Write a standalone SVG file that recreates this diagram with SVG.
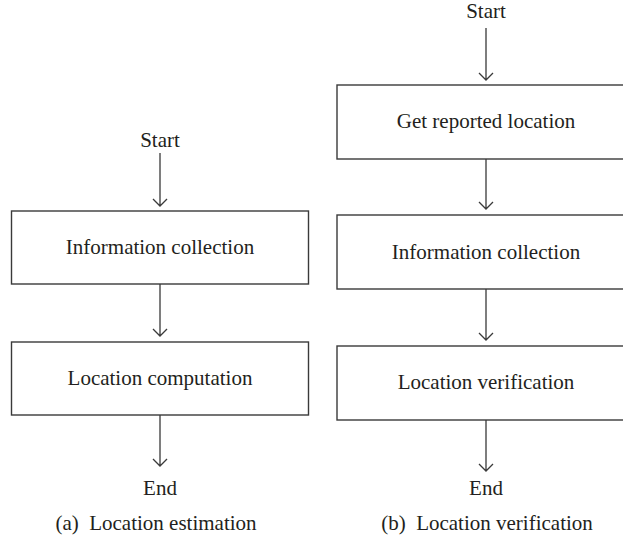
<svg xmlns="http://www.w3.org/2000/svg" width="623" height="539" viewBox="0 0 623 539">
<defs>
<style>
.box{fill:#fff;stroke:#3a3a3a;stroke-width:1.4}
.ln{fill:none;stroke:#3a3a3a;stroke-width:1.3}
.t{font-family:"Liberation Serif",serif;font-size:21px;fill:#231f20;text-anchor:middle}
</style>
</defs>
<rect width="623" height="539" fill="#fff"/>
<g id="connectors">
<path class="ln" d="M160,153 V206 M153,199 L160,206 L167,199"/>
<path class="ln" d="M160,284 V336 M153,329 L160,336 L167,329"/>
<path class="ln" d="M160,415 V466 M153,459 L160,466 L167,459"/>
<path class="ln" d="M486,28 V80 M479,73 L486,80 L493,73"/>
<path class="ln" d="M486,159 V209 M479,202 L486,209 L493,202"/>
<path class="ln" d="M486,289 V340 M479,333 L486,340 L493,333"/>
<path class="ln" d="M486,420 V471 M479,464 L486,471 L493,464"/>
</g>
<g id="a-start"><text class="t" x="160" y="147">Start</text></g>
<g id="a-info"><rect class="box" x="11.5" y="211" width="297" height="73"/><text class="t" x="160" y="254">Information collection</text></g>
<g id="a-comp"><rect class="box" x="11.5" y="342" width="297" height="73"/><text class="t" x="160" y="385">Location computation</text></g>
<g id="a-end"><text class="t" x="160" y="495">End</text></g>
<g id="a-caption"><text class="t" x="156" y="530" xml:space="preserve">(a)  Location estimation</text></g>
<g id="b-start"><text class="t" x="486" y="18">Start</text></g>
<g id="b-get"><rect class="box" x="337" y="85" width="298" height="74"/><text class="t" x="486" y="128">Get reported location</text></g>
<g id="b-info"><rect class="box" x="337" y="215" width="298" height="74"/><text class="t" x="486" y="259">Information collection</text></g>
<g id="b-verif"><rect class="box" x="337" y="346" width="298" height="74"/><text class="t" x="486" y="389">Location verification</text></g>
<g id="b-end"><text class="t" x="486" y="495">End</text></g>
<g id="b-caption"><text class="t" x="487" y="530" xml:space="preserve">(b)  Location verification</text></g>
</svg>
